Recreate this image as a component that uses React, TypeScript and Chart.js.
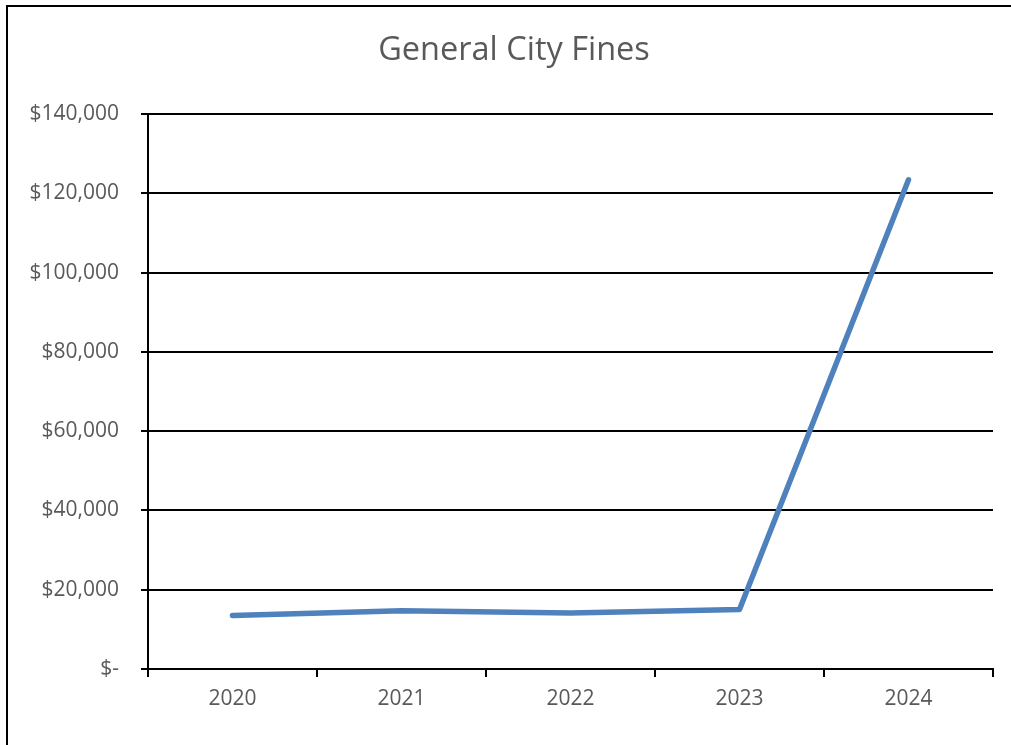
import React, { useEffect, useRef } from "react";
import { Chart, registerables } from "chart.js";

Chart.register(...registerables);

const TITLE = "General City Fines";
const years = ["2020", "2021", "2022", "2023", "2024"];
const fines = [13500, 14700, 14100, 15000, 123400];
const yMin = 0;
const yMax = 140000;
const yStep = 20000;

const FONT = "'Open Sans', 'Liberation Sans', sans-serif";
const TEXT = "#595959";

const frameAndTitle = {
  id: "frameAndTitle",
  beforeDraw(chart: any) {
    const ctx = chart.ctx;
    ctx.save();
    ctx.fillStyle = "#ffffff";
    ctx.fillRect(0, 0, chart.width, chart.height);
    ctx.strokeStyle = "#000000";
    ctx.lineWidth = 2;
    ctx.beginPath();
    ctx.moveTo(7, chart.height + 5);
    ctx.lineTo(7, 6);
    ctx.lineTo(chart.width + 5, 6);
    ctx.stroke();
    ctx.fillStyle = TEXT;
    ctx.font = `32.5px ${FONT}`;
    ctx.textAlign = "center";
    ctx.textBaseline = "middle";
    ctx.fillText(TITLE, 514, 51);
    ctx.restore();
  },
};

export default function App() {
  const ref = useRef<HTMLCanvasElement | null>(null);
  useEffect(() => {
    if (!ref.current) return;
    const chart = new Chart(ref.current, {
      type: "line",
      data: {
        labels: years,
        datasets: [
          {
            data: fines,
            borderColor: "#4F81BD",
            backgroundColor: "#4F81BD",
            borderWidth: 5.5,
            borderCapStyle: "round",
            borderJoinStyle: "round",
            pointRadius: 0,
            tension: 0,
          },
        ],
      },
      options: {
        responsive: false,
        animation: false,
        layout: { padding: { top: 114, right: 18, left: 0, bottom: 0 } },
        plugins: {
          legend: { display: false },
          title: { display: false },
          tooltip: { enabled: false },
        },
        scales: {
          x: {
            type: "category",
            offset: true,
            grid: {
              offset: true,
              drawOnChartArea: false,
              drawTicks: true,
              tickLength: 8,
              color: "#000000",
              lineWidth: 2,
            },
            border: { color: "#000000", width: 2 },
            ticks: {
              color: TEXT,
              font: { family: FONT, size: 21 },
              padding: 9,
              maxRotation: 0,
            },
            afterFit(s: any) {
              s.height = 76;
            },
          },
          y: {
            min: yMin,
            max: yMax,
            grid: {
              color: "#000000",
              lineWidth: 2,
              drawTicks: true,
              tickLength: 7,
            },
            border: { color: "#000000", width: 2 },
            ticks: {
              stepSize: yStep,
              color: TEXT,
              font: { family: FONT, size: 21 },
              padding: 22,
              callback: (v: any) =>
                Number(v) === 0 ? "$-" : "$" + Number(v).toLocaleString("en-US"),
            },
            afterFit(s: any) {
              s.width = 148;
            },
          },
        },
      },
      plugins: [frameAndTitle],
    });
    return () => chart.destroy();
  }, []);
  return (
    <div style={{ position: "absolute", left: 0, top: 0, width: 1011, height: 745 }}>
      <canvas ref={ref} width={1011} height={745} />
    </div>
  );
}
